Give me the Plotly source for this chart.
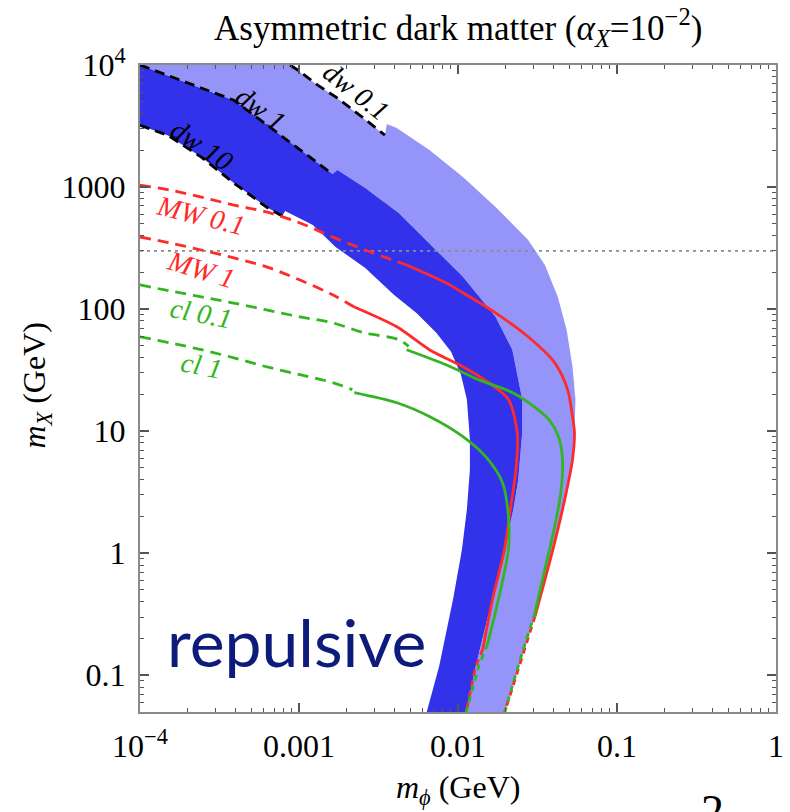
import math
import plotly.graph_objects as go

# ---------------- data (m_phi [GeV], m_X [GeV]) ----------------
DW10_DASH_X = [1.0e-4, 1.49e-4, 2.43e-4, 3.89e-4, 6.24e-4, 7.84e-4]
DW10_DASH_Y = [3210, 2660, 1760, 1079, 686, 579]

DARK_LEFT_X = [8.18e-4, 1.222e-3, 1.698e-3, 2.61e-3, 3.95e-3, 5.48e-3, 7.30e-3, 9.05e-3,
               1.044e-2, 1.137e-2, 1.188e-2, 1.188e-2, 1.137e-2, 1.059e-2, 9.31e-3, 7.62e-3, 6.33e-3]
DARK_LEFT_Y = [636, 489, 323, 217, 131, 93.1, 64.0, 44.8,
               29.0, 18.2, 8.54, 4.85, 2.28, 1.07, 0.419, 0.119, 0.049]

DW1_DASH_X = [1.0e-4, 1.535e-4, 2.43e-4, 3.89e-4, 5.73e-4, 7.96e-4, 1.105e-3, 1.626e-3]
DW1_DASH_Y = [1.0e4, 8090, 6460, 5150, 3530, 2560, 1860, 1277]

DARK_RIGHT_X = [1.746e-3, 2.61e-3, 4.24e-3, 6.70e-3, 1.074e-2, 1.722e-2, 2.196e-2, 2.535e-2,
                2.535e-2, 2.393e-2, 2.228e-2, 1.959e-2, 1.649e-2, 1.294e-2, 1.121e-2]
DARK_RIGHT_Y = [1377, 981, 613, 342, 184, 86.4, 46.5, 18.2,
                9.73, 4.02, 2.28, 1.07, 0.419, 0.119, 0.049]

DW01_DASH_X = [8.79e-4, 9.86e-4, 1.312e-3, 1.746e-3, 2.50e-3, 3.47e-3]
DW01_DASH_Y = [1.0e4, 9060, 6830, 5350, 3740, 2660]

LIGHT_RIGHT_X = [3.57e-3, 4.12e-3, 6.61e-3, 1.074e-2, 1.722e-2, 2.761e-2, 3.52e-2, 4.24e-2,
                 4.82e-2, 5.25e-2, 5.48e-2, 5.40e-2, 5.18e-2, 4.69e-2, 3.95e-2, 3.05e-2,
                 2.075e-2, 1.959e-2]
LIGHT_RIGHT_Y = [3280, 3040, 2010, 1207, 686, 369, 230, 126,
                 67.7, 33.7, 18.2, 9.73, 5.13, 2.75, 1.07, 0.304,
                 0.0637, 0.049]

MW01_DASH_X = [1.0e-4, 1.535e-4, 2.43e-4, 3.89e-4, 6.24e-4, 1.014e-3, 1.626e-3, 2.61e-3, 4.75e-3]
MW01_DASH_Y = [1038, 945, 828, 712, 625, 508, 390, 305, 230]
MW01_SOLID_X = [4.75e-3, 8.42e-3, 1.074e-2, 1.722e-2, 2.761e-2, 4.06e-2, 4.89e-2, 5.25e-2,
                5.40e-2, 5.25e-2, 4.69e-2, 3.95e-2, 3.05e-2]
MW01_SOLID_Y = [230, 164, 136, 93.1, 59.3, 36.3, 21.9, 13.2,
                9.73, 5.85, 2.75, 1.07, 0.304]
MW01_TAIL_X = [3.05e-2, 2.075e-2, 1.959e-2]
MW01_TAIL_Y = [0.304, 0.0637, 0.049]

MW1_DASH_X = [1.0e-4, 1.535e-4, 2.43e-4, 3.89e-4, 6.24e-4, 1.014e-3, 1.626e-3, 2.228e-3]
MW1_DASH_Y = [390, 349, 305, 263, 222, 173, 131, 104]
MW1_SOLID_X = [2.228e-3, 4.12e-3, 6.61e-3, 1.074e-2, 1.559e-2, 2.075e-2, 2.359e-2, 2.325e-2,
               2.134e-2, 1.959e-2, 1.649e-2, 1.430e-2]
MW1_SOLID_Y = [104, 71.6, 46.5, 33.7, 25.0, 18.2, 9.73, 5.13,
               2.28, 1.07, 0.419, 0.163]
MW1_TAIL_X = [1.430e-2, 1.294e-2, 1.121e-2]
MW1_TAIL_Y = [0.163, 0.119, 0.049]

CL01_DASH_X = [1.0e-4, 1.535e-4, 2.43e-4, 3.89e-4, 6.24e-4, 1.014e-3, 1.626e-3, 2.57e-3,
               4.24e-3, 4.89e-3]
CL01_DASH_Y = [158, 141, 126, 112, 98.6, 86.4, 77.2, 64.0, 56.1, 49.5]
CL01_SOLID_X = [4.75e-3, 8.42e-3, 1.350e-2, 2.196e-2, 3.18e-2, 3.78e-2, 4.30e-2, 4.52e-2,
                4.55e-2, 4.43e-2, 4.06e-2, 3.52e-2, 3.05e-2]
CL01_SOLID_Y = [46.5, 35.0, 26.4, 20.7, 15.0, 12.2, 8.9, 6.4,
                4.85, 3.14, 1.66, 0.738, 0.328]
CL01_TAIL_X = [3.05e-2, 2.462e-2, 1.959e-2]
CL01_TAIL_Y = [0.328, 0.135, 0.049]

CL1_DASH_X = [1.0e-4, 1.535e-4, 2.43e-4, 3.89e-4, 6.24e-4, 1.014e-3, 1.626e-3, 2.165e-3]
CL1_DASH_Y = [59.3, 53.0, 46.5, 39.9, 33.7, 29.0, 25.0, 21.9]
CL1_SOLID_X = [2.228e-3, 4.12e-3, 6.61e-3, 1.074e-2, 1.493e-2, 1.904e-2, 2.075e-2, 2.075e-2,
               1.797e-2, 1.535e-2]
CL1_SOLID_Y = [20.7, 17.1, 13.2, 9.03, 6.19, 3.80, 2.00, 1.07, 0.419, 0.180]
CL1_TAIL_X = [1.535e-2, 1.350e-2, 1.121e-2]
CL1_TAIL_Y = [0.180, 0.119, 0.049]

HLINE_Y = 300  # GeV, dotted reference line

X_TICKS = [1e-4, 1e-3, 1e-2, 1e-1, 1]
X_TICKTEXT = ["10<sup>\u22124</sup>", "0.001", "0.01", "0.1", "1"]
Y_TICKS = [0.1, 1, 10, 100, 1000, 1e4]
Y_TICKTEXT = ["0.1", "1", "10", "100", "1000", "10<sup>4</sup>"]

# labels: (text, m_phi, m_X, angle, colour)
LABELS = [
    ("dw 0.1", 2.30e-3, 6100, 38, "black"),
    ("dw 1", 5.73e-4, 4400, 36, "black"),
    ("dw 10", 2.46e-4, 2200, 34, "black"),
    ("MW 0.1", 2.43e-4, 580, 14, "#ff2a2a"),
    ("MW 1", 2.43e-4, 213, 17, "#ff2a2a"),
    ("cl 0.1", 2.43e-4, 91.4, 11, "#33b521"),
    ("cl 1", 2.43e-4, 34.4, 11, "#33b521"),
]

DARK = "#3232ea"
LIGHT = "#9595f9"
RED = "#ff2a2a"
GREEN = "#33b521"

# ---------------- figure ----------------
fig = go.Figure()

light_x = DW1_DASH_X + DARK_RIGHT_X + LIGHT_RIGHT_X[::-1] + DW01_DASH_X[::-1] + [1.0e-4]
light_y = DW1_DASH_Y + DARK_RIGHT_Y + LIGHT_RIGHT_Y[::-1] + DW01_DASH_Y[::-1] + [1.0e4]
fig.add_trace(go.Scatter(x=light_x, y=light_y, fill="toself", fillcolor=LIGHT,
                         mode="lines", line=dict(width=0, color=LIGHT), hoverinfo="skip"))

dark_x = DW10_DASH_X + DARK_LEFT_X + DARK_RIGHT_X[::-1] + DW1_DASH_X[::-1]
dark_y = DW10_DASH_Y + DARK_LEFT_Y + DARK_RIGHT_Y[::-1] + DW1_DASH_Y[::-1]
fig.add_trace(go.Scatter(x=dark_x, y=dark_y, fill="toself", fillcolor=DARK,
                         mode="lines", line=dict(width=0, color=DARK), hoverinfo="skip"))

fig.add_trace(go.Scatter(x=[1e-4, 1], y=[HLINE_Y, HLINE_Y], mode="lines",
                         line=dict(color="#8c8c8c", width=1.6, dash="3px,4px")))

for xs, ys in [(DW10_DASH_X, DW10_DASH_Y), (DW1_DASH_X, DW1_DASH_Y), (DW01_DASH_X, DW01_DASH_Y)]:
    fig.add_trace(go.Scatter(x=xs, y=ys, mode="lines",
                             line=dict(color="black", width=2.8, dash="10px,6px")))


def add_curve(dx, dy, sx, sy, tx, ty, color):
    fig.add_trace(go.Scatter(x=dx, y=dy, mode="lines",
                             line=dict(color=color, width=2.8, dash="11px,7px", shape="spline")))
    fig.add_trace(go.Scatter(x=sx, y=sy, mode="lines",
                             line=dict(color=color, width=2.8, shape="spline", smoothing=0.8)))
    fig.add_trace(go.Scatter(x=tx, y=ty, mode="lines",
                             line=dict(color=color, width=2.8, dash="6px,5px")))


add_curve(MW01_DASH_X, MW01_DASH_Y, MW01_SOLID_X, MW01_SOLID_Y, MW01_TAIL_X, MW01_TAIL_Y, RED)
add_curve(MW1_DASH_X, MW1_DASH_Y, MW1_SOLID_X, MW1_SOLID_Y, MW1_TAIL_X, MW1_TAIL_Y, RED)
add_curve(CL01_DASH_X, CL01_DASH_Y, CL01_SOLID_X, CL01_SOLID_Y, CL01_TAIL_X, CL01_TAIL_Y, GREEN)
add_curve(CL1_DASH_X, CL1_DASH_Y, CL1_SOLID_X, CL1_SOLID_Y, CL1_TAIL_X, CL1_TAIL_Y, GREEN)

annotations = []
for txt, lx, ly, ang, col in LABELS:
    annotations.append(dict(x=math.log10(lx), y=math.log10(ly), xref="x", yref="y",
                            text="<i>%s</i>" % txt, showarrow=False, textangle=ang,
                            font=dict(family="Liberation Serif", size=28, color=col)))

annotations.append(dict(x=math.log10(9.6e-4), y=math.log10(0.19), xref="x", yref="y",
                        text="repulsive", showarrow=False,
                        font=dict(family="Lato", size=66, color="#0d1b7a")))

annotations.append(dict(x=0.5, y=1.058, xref="paper", yref="paper",
                        text="Asymmetric dark matter (<i>\u03b1<sub>X</sub></i>=10<sup>\u22122</sup>)",
                        showarrow=False, xanchor="center", yanchor="middle",
                        font=dict(family="Liberation Serif", size=35, color="black")))
annotations.append(dict(x=0.5, y=-0.12, xref="paper", yref="paper",
                        text="<i>m<sub>\u03d5</sub></i> (GeV)", showarrow=False,
                        xanchor="center", yanchor="middle",
                        font=dict(family="Liberation Serif", size=32, color="black")))
annotations.append(dict(x=-0.163, y=0.505, xref="paper", yref="paper",
                        text="<i>m<sub>X</sub></i> (GeV)", showarrow=False, textangle=-90,
                        xanchor="center", yanchor="middle",
                        font=dict(family="Liberation Serif", size=32, color="black")))
annotations.append(dict(x=0.9, y=-0.112, xref="paper", yref="paper",
                        text="2", showarrow=False, xanchor="center", yanchor="top",
                        font=dict(family="Liberation Serif", size=46, color="black")))

x_minor = [k * 10.0 ** e for e in range(-4, 0) for k in range(2, 10)]
y_minor = [k * 10.0 ** e for e in range(-2, 4) for k in range(2, 10) if k * 10.0 ** e > 0.05]

axis_common = dict(type="log", showgrid=False, zeroline=False, showline=True,
                   linecolor="#8a8a8a", linewidth=2, mirror="allticks",
                   ticks="inside", ticklen=9, tickwidth=1.5, tickcolor="#555555",
                   tickfont=dict(family="Liberation Serif", size=32, color="black"))

fig.update_layout(
    width=790, height=812,
    margin=dict(l=140, r=6, t=65, b=100),
    paper_bgcolor="white", plot_bgcolor="white",
    showlegend=False,
    xaxis=dict(range=[-4, 0], tickvals=X_TICKS, ticktext=X_TICKTEXT, ticklabelstandoff=5,
               minor=dict(tickvals=x_minor, ticks="inside", ticklen=4, tickwidth=1.2,
                          tickcolor="#555555"),
               **axis_common),
    yaxis=dict(range=[math.log10(0.05), 4], tickvals=Y_TICKS, ticktext=Y_TICKTEXT,
               ticklabelstandoff=6,
               minor=dict(tickvals=y_minor, ticks="inside", ticklen=4, tickwidth=1.2,
                          tickcolor="#555555"),
               **axis_common),
    annotations=annotations,
)

fig.write_html("out.html")
